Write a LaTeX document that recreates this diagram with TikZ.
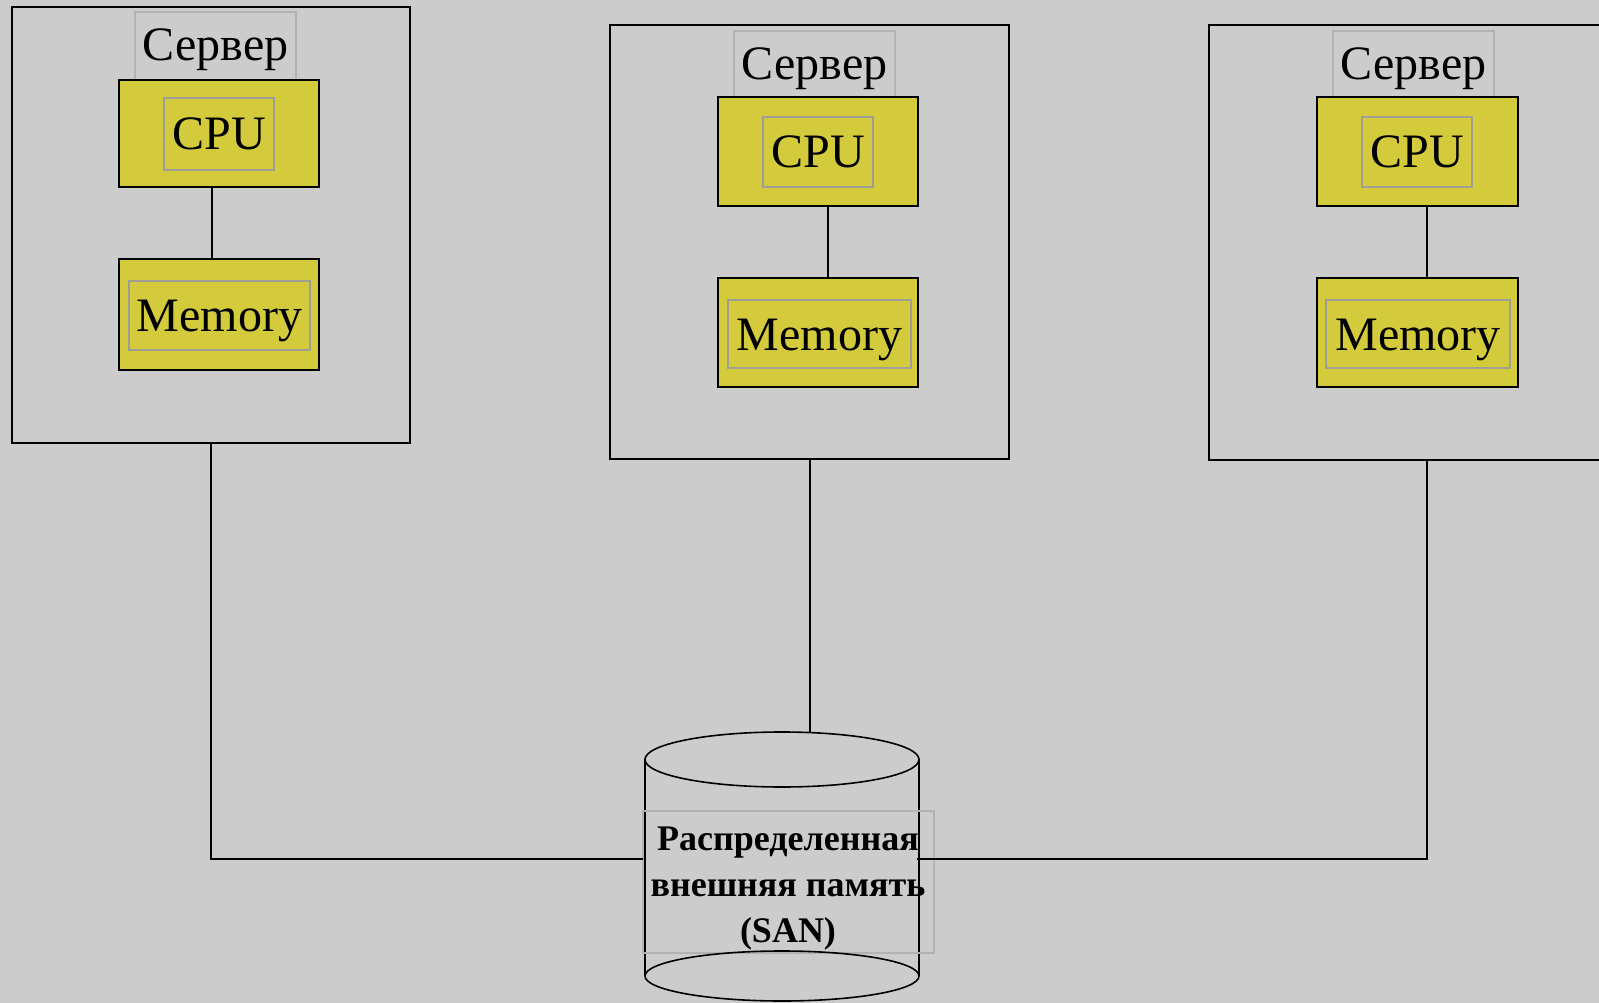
\documentclass[tikz,border=0pt]{standalone}
\usepackage{fontspec}
\setmainfont{Liberation Serif}
\definecolor{bg}{RGB}{204,204,204}
\definecolor{chip}{RGB}{211,202,60}
\definecolor{frame}{RGB}{158,158,150}
\definecolor{lframe}{RGB}{178,178,178}
\begin{document}
\begin{tikzpicture}[x=1pt,y=-1pt,
  every node/.style={inner sep=0pt,outer sep=0pt,anchor=north west},
  srvbox/.style={draw=black,line width=1.8pt},
  chipbox/.style={draw=black,line width=1.6pt,fill=chip},
  lblbox/.style={draw=lframe,line width=1.1pt,font=\fontsize{48}{50}\selectfont,text height=30pt,text depth=0pt},
  inbox/.style={draw=frame,line width=1.3pt,font=\fontsize{48}{50}\selectfont,text height=32pt,text depth=0pt},
  conn/.style={draw=black,line width=1.6pt},
  cyl/.style={draw=black,line width=1.6pt}]
\useasboundingbox (0,0) rectangle (1599,1003);
\fill[bg] (0,0) rectangle (1599,1003);
\clip (0,0) rectangle (1599,1003);

% servers
\node[srvbox,minimum width=398pt,minimum height=436pt] (srv1) at (11.7,7) {};
\node[srvbox,minimum width=399pt,minimum height=434pt] (srv2) at (610,25) {};
\node[srvbox,minimum width=399pt,minimum height=435pt] (srv3) at (1209,25) {};

% server labels
\node[lblbox,minimum width=161pt,minimum height=68pt] (lbl1) at (135,12) {Сервер};
\node[lblbox,minimum width=161pt,minimum height=67pt] (lbl2) at (734,31) {Сервер};
\node[lblbox,minimum width=161pt,minimum height=67pt] (lbl3) at (1333,31) {Сервер};

% CPU boxes
\node[chipbox,minimum width=200pt,minimum height=107pt] (cpu1) at (119,80) {};
\node[chipbox,minimum width=200pt,minimum height=109pt] (cpu2) at (718,97) {};
\node[chipbox,minimum width=201pt,minimum height=109pt] (cpu3) at (1317,97) {};
\node[inbox,minimum width=110pt,minimum height=72pt] (cput1) at (164,98) {CPU};
\node[inbox,minimum width=110pt,minimum height=70pt] (cput2) at (763,117) {CPU};
\node[inbox,minimum width=110pt,minimum height=70pt] (cput3) at (1362,117) {CPU};

% Memory boxes
\node[chipbox,minimum width=200pt,minimum height=111pt] (mem1) at (119,259) {};
\node[chipbox,minimum width=200pt,minimum height=109pt] (mem2) at (718,278) {};
\node[chipbox,minimum width=201pt,minimum height=109pt] (mem3) at (1317,278) {};
\node[inbox,minimum width=181pt,minimum height=69pt] (memt1) at (129,281) {Memory};
\node[inbox,minimum width=183pt,minimum height=68pt] (memt2) at (728,300) {Memory};
\node[inbox,minimum width=184pt,minimum height=68pt] (memt3) at (1326,300) {Memory};

% CPU-Memory links
\coordinate (x1) at (212,0);
\coordinate (x2) at (828,0);
\coordinate (x3) at (1427,0);
\draw[conn] (cpu1.south -| x1) -- (mem1.north -| x1);
\draw[conn] (cpu2.south -| x2) -- (mem2.north -| x2);
\draw[conn] (cpu3.south -| x3) -- (mem3.north -| x3);

% storage cylinder
\draw[cyl] (645,759.5) -- (645,976);
\draw[cyl] (919,759.5) -- (919,976);
\draw[cyl] (782,759.5) ellipse [x radius=137pt, y radius=27.5pt];
\node[draw=lframe,line width=1.1pt,minimum width=291pt,minimum height=142pt,
      anchor=center] (san) at (788.5,882) {};
\node[align=center,anchor=center,font=\bfseries\fontsize{36}{46}\selectfont]
      (santext) at (788,889) {Распределенная\\внешняя память\\(SAN)};
\draw[cyl] (782,976) ellipse [x radius=137pt, y radius=25pt];
\coordinate (cyltop) at (810,732.6);

% links to storage
\coordinate (sanL) at (643,859);
\coordinate (sanR) at (917,859);
\coordinate (s3out) at (1427,460);
\draw[conn] (srv1.south) |- (sanL);
\draw[conn] (srv2.south -| cyltop) -- (cyltop);
\draw[conn] (s3out) |- (sanR);
\end{tikzpicture}
\end{document}
